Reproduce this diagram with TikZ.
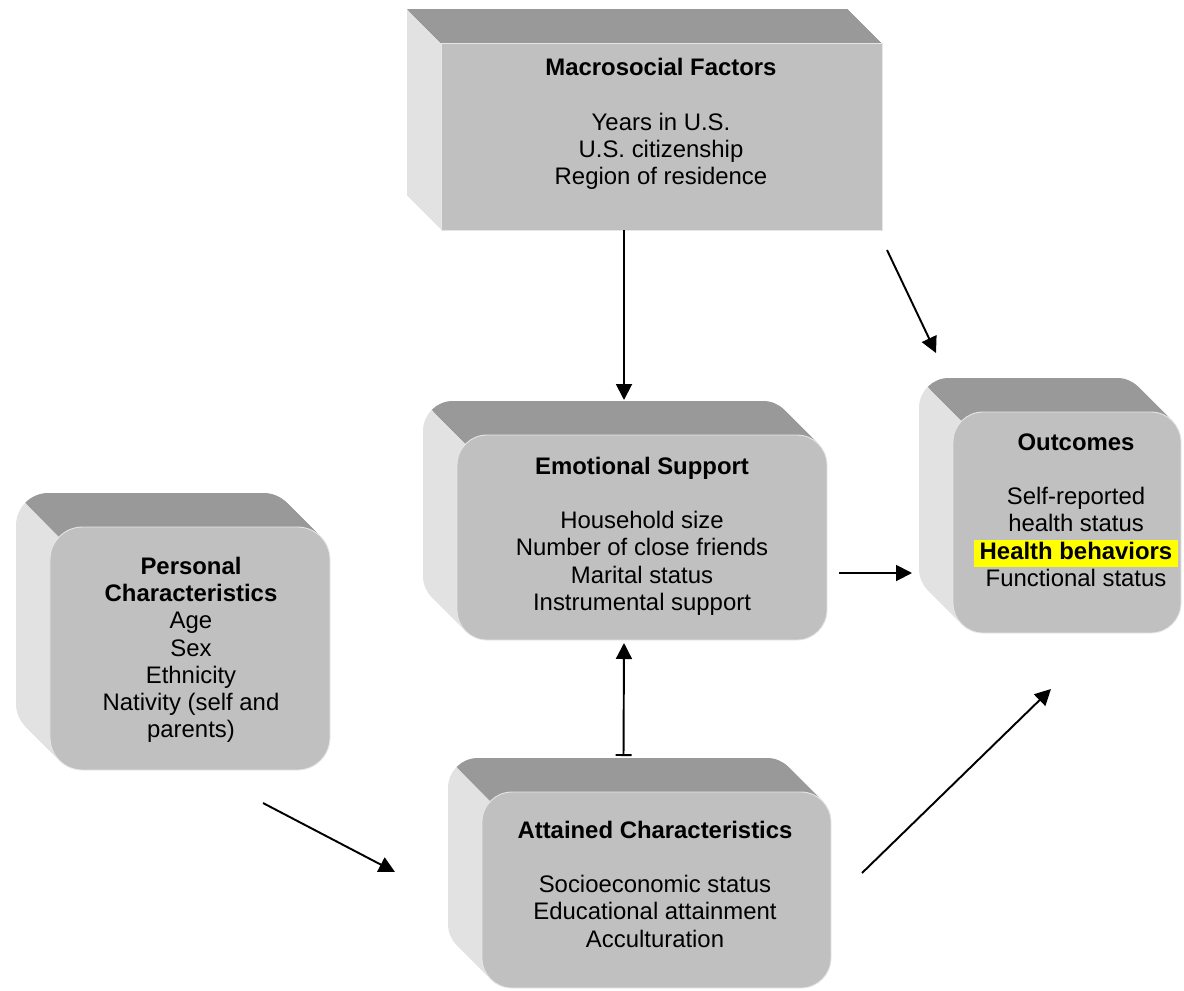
\documentclass[tikz,border=0pt]{standalone}
\usepackage{fontspec}
\setmainfont{Liberation Sans}
\usetikzlibrary{arrows.meta, calc, positioning}
\definecolor{facegray}{RGB}{192,192,192}
\definecolor{topgray}{RGB}{153,153,153}
\definecolor{sidegray}{RGB}{226,226,226}
\definecolor{marker}{RGB}{255,255,0}

% depth of a box: x1,y1,x2,y2 of the front face, corner radius
\newcommand\boxdepth[5]{%
  \foreach \k in {1,...,34}
    \fill[sidegray, rounded corners=#5] (#1-\k,#2-\k) rectangle (#3-\k,#4-\k);
  \begin{scope}
    \clip (#1-400,#2-400) -- (#1+1000,#2-400) -- (#1+1000,#2+1000) -- cycle;
    \foreach \k in {1,...,34}
      \fill[topgray, rounded corners=#5] (#1-\k,#2-\k) rectangle (#3-\k,#4-\k);
  \end{scope}}
\newcommand\marked[1]{{\setlength\fboxsep{0pt}%
  \colorbox{marker}{\rule[-4.5pt]{0pt}{15.5pt}\hspace{3.5pt}#1\hspace{3.5pt}}}}

\begin{document}
\begin{tikzpicture}[% styles used in image code
  x = 0.2mm, y = -0.2mm,
          > = {Triangle[length=3.2mm, width=3.2mm]},
face/.style = {fill=facegray, draw=white!60!facegray, line width=0.5pt,
               inner sep=0pt, outer sep=0pt},
 txt/.style = {align=center, inner sep=0pt,
               font=\fontsize{13.6}{15.5}\selectfont},
link/.style = {->, line width=1.1pt},
                    ]
	\useasboundingbox (0,0) rectangle (1184,990);

	% macrosocial factors
	\boxdepth{441}{43}{882}{230}{0pt}
	\node[face, minimum width=88.2mm, minimum height=37.4mm] (macro) at (661.5,136.5) {};
	\node[txt] (macro text) at (661,124)
	  {\textbf{Macrosocial Factors}\\[15.5pt]
	   Years in U.S.\\ U.S. citizenship\\ Region of residence};

	% emotional support
	\boxdepth{457}{435}{827}{640}{6mm}
	\node[face, rounded corners=6mm, minimum width=74mm, minimum height=41mm] (emo) at (642,537.5) {};
	\node[txt] (emo text) at (642,536)
	  {\textbf{Emotional Support}\\[15.5pt]
	   Household size\\ Number of close friends\\ Marital status\\ Instrumental support};

	% personal characteristics
	\boxdepth{50}{527}{330}{770}{6.5mm}
	\node[face, rounded corners=6.5mm, minimum width=56mm, minimum height=48.6mm] (pers) at (190,648.5) {};
	\node[txt] (pers text) at (191,650)
	  {\textbf{Personal}\\ \textbf{Characteristics}\\ Age\\ Sex\\ Ethnicity\\
	   Nativity (self and\\ parents)};

	% outcomes
	\boxdepth{953}{412}{1181}{633}{6mm}
	\node[face, rounded corners=6mm, minimum width=45.6mm, minimum height=44.2mm] (out) at (1067,522.5) {};
	\node[txt] (out text) at (1076,510)
	  {\textbf{Outcomes}\\[15.5pt]
	   Self-reported\\ health status\\ \marked{\textbf{Health behaviors}}\\ Functional status};

	% attained characteristics
	\boxdepth{482}{792}{831}{988}{6mm}
	\node[face, rounded corners=6mm, minimum width=69.8mm, minimum height=39.2mm] (att) at (656.5,890) {};
	\node[txt] (att text) at (655,884)
	  {\textbf{Attained Characteristics}\\[15.5pt]
	   Socioeconomic status\\ Educational attainment\\ Acculturation};

	% connectors
	\draw[link] ($(macro.south)+(-37.5,0)$) -- ($(emo.north)+(-18,-35)$);
	\draw[link] ($(macro.south east)+(5,20)$) -- ($(out.north west)+(-17,-59)$);
	\draw[link] ($(emo.east)+(12,35.5)$) -- ($(out.west)+(-41,50.5)$);
	\draw[link, {Bar[width=3.2mm]}->] ($(att.north)+(-33,-36)$) -- ($(emo.south)+(-18,3)$);
	\draw[link] ($(pers.south)+(73,33)$) -- ($(att.west)+(-87,-18)$);
	\draw[link] ($(att.east)+(31,-17)$) -- ($(out.south)+(-16,56)$);
\end{tikzpicture}
\end{document}
